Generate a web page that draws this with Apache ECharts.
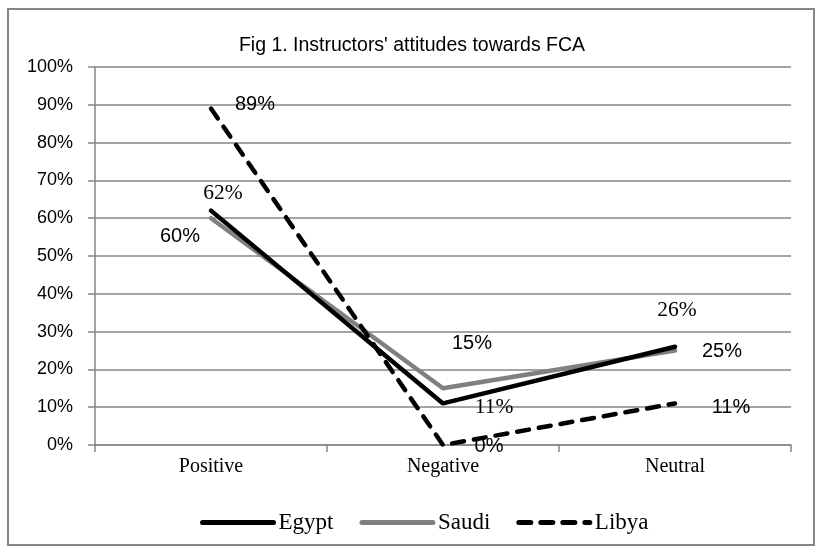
<!DOCTYPE html>
<html>
<head>
<meta charset="utf-8">
<script src="https://cdn.jsdelivr.net/npm/echarts@6/dist/echarts.min.js"></script>
<style>
html,body{margin:0;padding:0;background:#fff;}
#chart{width:824px;height:552px;}
</style>
</head>
<body>
<div id="chart"></div>
<script>
const categories = ['Positive', 'Negative', 'Neutral'];
const egypt = [62, 11, 26];
const saudi = [60, 15, 25];
const libya = [89, 0, 11];
const seriesNames = ['Egypt', 'Saudi', 'Libya'];
const yMin = 0, yMax = 100, yStep = 10;

// label placement (offset from point, px) and font per series
const labelOffsets = {
  Egypt: [[12, -17], [51, 4], [2, -36]],
  Saudi: [[-31, 18], [29, -45], [47, 1]],
  Libya: [[44, -4], [46, 1], [56, 4]]
};
const serif = 'Liberation Serif, Times New Roman, serif';
const sans = 'Liberation Sans, Arial, sans-serif';
const labelFonts = { Egypt: serif, Saudi: sans, Libya: sans };
const labelSizes = { Egypt: 21.5, Saudi: 20, Libya: 20 };
const lineStyles = {
  Egypt: { color: '#000000', width: 4.5, type: 'solid', cap: 'round' },
  Saudi: { color: '#808080', width: 4.5, type: 'solid', cap: 'round' },
  Libya: { color: '#000000', width: 4.5, type: [12, 10], cap: 'round' }
};

function buildData(name, values) {
  return values.map((v, i) => ({
    value: v,
    label: { offset: labelOffsets[name][i] }
  }));
}

const seriesValues = { Egypt: egypt, Saudi: saudi, Libya: libya };

const chart = echarts.init(document.getElementById('chart'), null, { renderer: 'canvas' });
const grid = '#868686';
chart.setOption({
  animation: false,
  backgroundColor: '#ffffff',
  title: {
    text: "Fig 1. Instructors' attitudes towards FCA",
    left: 'center',
    top: 31,
    textStyle: { fontFamily: sans, fontSize: 19.5, fontWeight: 'normal', color: '#000' }
  },
  graphic: [{
    type: 'rect',
    shape: { x: 8, y: 9, width: 806, height: 536 },
    style: { fill: 'none', stroke: grid, lineWidth: 2 },
    silent: true
  }],
  grid: { left: 95, right: 33, top: 67, bottom: 107 },
  legend: {
    data: seriesNames,
    left: 195,
    top: 506,
    itemWidth: 71,
    itemHeight: 5,
    itemGap: 26,
    itemStyle: { opacity: 0 },
    lineStyle: { width: 5 },
    textStyle: { fontFamily: serif, fontSize: 23, color: '#000' }
  },
  xAxis: {
    type: 'category',
    data: categories,
    boundaryGap: true,
    axisLine: { lineStyle: { color: grid, width: 1.5 } },
    axisTick: { show: true, length: 7, lineStyle: { color: grid, width: 1.5 } },
    axisLabel: { fontFamily: serif, fontSize: 20, color: '#000', margin: 12 },
    splitLine: { show: false }
  },
  yAxis: {
    type: 'value',
    min: yMin, max: yMax, interval: yStep,
    axisLine: { show: true, lineStyle: { color: grid, width: 1.5 } },
    axisTick: { show: true, length: 7, lineStyle: { color: grid, width: 1.5 } },
    axisLabel: { formatter: '{value}%', fontFamily: sans, fontSize: 18, color: '#000', margin: 22 },
    splitLine: { show: true, lineStyle: { color: grid, width: 1.5 } }
  },
  series: seriesNames.map(name => ({
    name: name,
    type: 'line',
    data: buildData(name, seriesValues[name]),
    symbol: 'circle',
    symbolSize: 0.01,
    showSymbol: true,
    lineStyle: lineStyles[name],
    itemStyle: { color: lineStyles[name].color },
    label: {
      show: true,
      position: 'inside',
      formatter: '{c}%',
      fontFamily: labelFonts[name],
      fontSize: labelSizes[name],
      color: '#000'
    },
    z: name === 'Saudi' ? 2 : 3
  }))
});
</script>
</body>
</html>
